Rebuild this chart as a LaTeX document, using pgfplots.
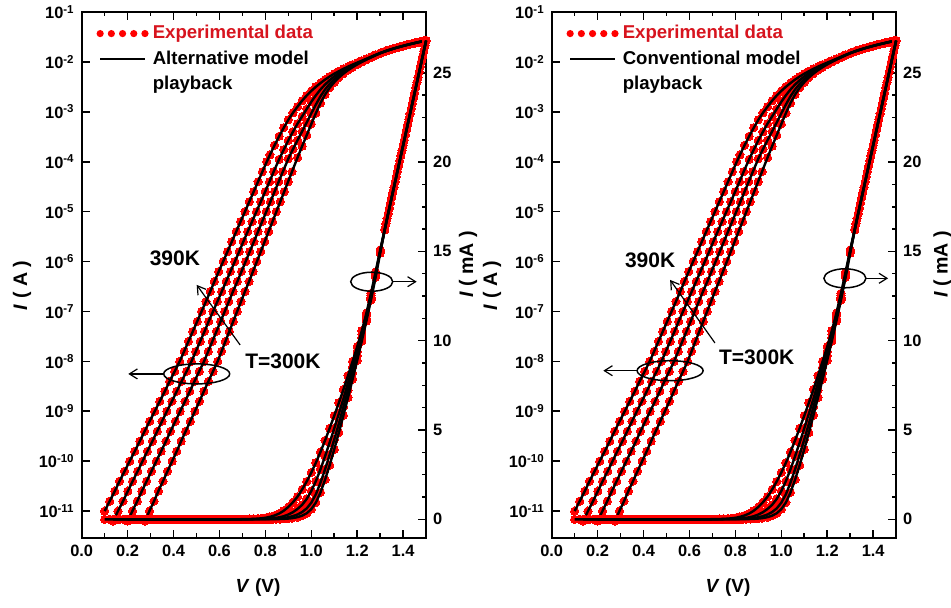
\documentclass[border=0pt]{standalone}
\usepackage{fontspec}
\setmainfont{Liberation Sans}
\usepackage{pgfplots}
\pgfplotsset{compat=1.18}
\usepackage{pgfplotstable}
\usetikzlibrary{arrows.meta}
\definecolor{expred}{RGB}{215,20,30}
\definecolor{dotred}{RGB}{255,0,0}

\pgfplotstableread{
V I
0.100 1.00e-11
0.122 1.58e-11
0.144 2.51e-11
0.165 3.98e-11
0.187 6.31e-11
0.209 1.00e-10
0.231 1.58e-10
0.253 2.51e-10
0.274 3.98e-10
0.296 6.31e-10
0.318 1.00e-9
0.340 1.58e-9
0.362 2.51e-9
0.383 3.98e-9
0.405 6.31e-9
0.427 1.00e-8
0.446 1.58e-8
0.465 2.51e-8
0.484 3.98e-8
0.503 6.31e-8
0.522 1.00e-7
0.541 1.58e-7
0.560 2.51e-7
0.578 3.98e-7
0.597 6.31e-7
0.616 1.00e-6
0.635 1.58e-6
0.654 2.51e-6
0.673 3.98e-6
0.692 6.31e-6
0.711 1.00e-5
0.730 1.58e-5
0.749 2.51e-5
0.768 3.98e-5
0.787 6.31e-5
0.806 1.00e-4
0.820 1.38e-4
0.840 2.14e-4
0.860 3.24e-4
0.880 4.79e-4
0.900 6.92e-4
0.920 9.55e-4
0.940 1.27e-3
0.960 1.67e-3
0.980 2.12e-3
1.000 2.62e-3
1.020 3.17e-3
1.040 3.77e-3
1.060 4.42e-3
1.080 5.10e-3
1.100 5.80e-3
1.120 6.52e-3
1.140 7.27e-3
1.160 8.05e-3
1.180 8.85e-3
1.200 9.67e-3
1.220 1.055e-2
1.240 1.155e-2
1.260 1.265e-2
1.280 1.385e-2
1.300 1.508e-2
1.320 1.625e-2
1.340 1.742e-2
1.360 1.860e-2
1.380 1.977e-2
1.400 2.094e-2
1.420 2.211e-2
1.440 2.328e-2
1.460 2.446e-2
1.480 2.563e-2
1.500 2.680e-2
}\curveA

\pgfplotstableread{
V I
0.137 6.31e-12
0.158 1.00e-11
0.180 1.58e-11
0.201 2.51e-11
0.222 3.98e-11
0.244 6.31e-11
0.265 1.00e-10
0.286 1.58e-10
0.308 2.51e-10
0.329 3.98e-10
0.350 6.31e-10
0.371 1.00e-9
0.393 1.58e-9
0.414 2.51e-9
0.435 3.98e-9
0.457 6.31e-9
0.478 1.00e-8
0.497 1.58e-8
0.516 2.51e-8
0.535 3.98e-8
0.553 6.31e-8
0.572 1.00e-7
0.591 1.58e-7
0.610 2.51e-7
0.629 3.98e-7
0.648 6.31e-7
0.667 1.00e-6
0.686 1.58e-6
0.704 2.51e-6
0.723 3.98e-6
0.742 6.31e-6
0.761 1.00e-5
0.780 1.58e-5
0.799 2.51e-5
0.818 3.98e-5
0.836 6.31e-5
0.860 1.12e-4
0.880 1.74e-4
0.900 2.69e-4
0.920 3.98e-4
0.940 5.80e-4
0.960 8.09e-4
0.980 1.14e-3
1.000 1.585e-3
1.020 2.14e-3
1.040 2.80e-3
1.060 3.53e-3
1.080 4.30e-3
1.100 5.09e-3
1.120 5.91e-3
1.140 6.75e-3
1.160 7.64e-3
1.180 8.52e-3
1.200 9.41e-3
1.220 1.036e-2
1.240 1.140e-2
1.260 1.253e-2
1.280 1.375e-2
1.300 1.502e-2
1.325 1.6545e-2
1.345 1.7717e-2
1.365 1.8889e-2
1.385 2.0061e-2
1.405 2.1233e-2
1.425 2.2405e-2
1.445 2.3577e-2
1.465 2.4749e-2
1.485 2.5921e-2
1.500 2.680e-2
}\curveB

\pgfplotstableread{
V I
0.200 6.31e-12
0.221 1.00e-11
0.242 1.58e-11
0.262 2.51e-11
0.283 3.98e-11
0.304 6.31e-11
0.325 1.00e-10
0.346 1.58e-10
0.367 2.51e-10
0.387 3.98e-10
0.408 6.31e-10
0.429 1.00e-9
0.450 1.58e-9
0.471 2.51e-9
0.491 3.98e-9
0.512 6.31e-9
0.533 1.00e-8
0.551 1.58e-8
0.569 2.51e-8
0.587 3.98e-8
0.605 6.31e-8
0.623 1.00e-7
0.641 1.58e-7
0.659 2.51e-7
0.678 3.98e-7
0.696 6.31e-7
0.714 1.00e-6
0.732 1.58e-6
0.750 2.51e-6
0.768 3.98e-6
0.786 6.31e-6
0.804 1.00e-5
0.822 1.58e-5
0.840 2.51e-5
0.858 3.98e-5
0.876 6.31e-5
0.900 1.15e-4
0.920 1.78e-4
0.940 2.70e-4
0.960 4.05e-4
0.980 6.10e-4
1.000 9.30e-4
1.020 1.40e-3
1.040 2.05e-3
1.060 2.80e-3
1.080 3.62e-3
1.100 4.47e-3
1.120 5.35e-3
1.140 6.30e-3
1.160 7.23e-3
1.180 8.18e-3
1.200 9.16e-3
1.220 1.017e-2
1.240 1.125e-2
1.260 1.240e-2
1.280 1.365e-2
1.300 1.496e-2
1.330 1.6838e-2
1.350 1.8010e-2
1.370 1.9182e-2
1.390 2.0354e-2
1.410 2.1526e-2
1.430 2.2698e-2
1.450 2.3870e-2
1.470 2.5042e-2
1.490 2.6214e-2
1.500 2.680e-2
}\curveC

\pgfplotstableread{
V I
0.275 6.31e-12
0.295 1.00e-11
0.315 1.58e-11
0.334 2.51e-11
0.354 3.98e-11
0.374 6.31e-11
0.394 1.00e-10
0.414 1.58e-10
0.433 2.51e-10
0.453 3.98e-10
0.473 6.31e-10
0.493 1.00e-9
0.513 1.58e-9
0.532 2.51e-9
0.552 3.98e-9
0.572 6.31e-9
0.592 1.00e-8
0.609 1.58e-8
0.626 2.51e-8
0.643 3.98e-8
0.660 6.31e-8
0.677 1.00e-7
0.694 1.58e-7
0.711 2.51e-7
0.729 3.98e-7
0.746 6.31e-7
0.763 1.00e-6
0.780 1.58e-6
0.797 2.51e-6
0.814 3.98e-6
0.831 6.31e-6
0.848 1.00e-5
0.865 1.58e-5
0.882 2.51e-5
0.899 3.98e-5
0.916 6.31e-5
0.940 1.21e-4
0.960 2.05e-4
0.980 3.40e-4
1.000 5.70e-4
1.020 9.40e-4
1.040 1.50e-3
1.060 2.22e-3
1.080 3.03e-3
1.100 3.92e-3
1.120 4.85e-3
1.140 5.82e-3
1.160 6.82e-3
1.180 7.85e-3
1.200 8.90e-3
1.220 9.98e-3
1.240 1.110e-2
1.260 1.228e-2
1.280 1.355e-2
1.300 1.490e-2
1.320 1.620e-2
1.335 1.7131e-2
1.355 1.8303e-2
1.375 1.9475e-2
1.395 2.0647e-2
1.415 2.1819e-2
1.435 2.2991e-2
1.455 2.4163e-2
1.475 2.5335e-2
1.495 2.6507e-2
1.500 2.680e-2
}\curveD

\pgfplotsset{
  expdots/.style={only marks, mark=*, mark size=2.05pt, color=dotred, mark options={fill=dotred, draw=dotred, line width=0pt}},
  fitline/.style={black, line width=1.2pt, mark=none},
}

\newcommand{\ivpanel}[3]{%
\begin{axis}[
    at={(#1,0pt)}, anchor=south west, scale only axis, width=172.2pt, height=262.85pt,
    xmin=0, xmax=1.5, clip=false, clip marker paths=true,
    ymode=log, ymin=2.92e-12, ymax=0.1,
    axis line style={line width=0.9pt},
    tick align=inside,
    major tick length=4pt, minor tick length=2.2pt,
    every tick/.style={black, line width=0.8pt},
    tick label style={font=\fontsize{8.2}{9}\selectfont\bfseries},
    xtick pos=both, ytick pos=left,
    xtick={0,0.2,0.4,0.6,0.8,1.0,1.2,1.4},
    xticklabels={0.0,0.2,0.4,0.6,0.8,1.0,1.2,1.4},
    minor xtick={0.1,0.3,0.5,0.7,0.9,1.1,1.3,1.5},
    ytick={1e-11,1e-10,1e-9,1e-8,1e-7,1e-6,1e-5,1e-4,1e-3,1e-2,1e-1},
    yticklabels={10\textsuperscript{-11},10\textsuperscript{-10},10\textsuperscript{-9},10\textsuperscript{-8},10\textsuperscript{-7},10\textsuperscript{-6},10\textsuperscript{-5},10\textsuperscript{-4},10\textsuperscript{-3},10\textsuperscript{-2},10\textsuperscript{-1}},
    yminorticks=false,
    xlabel={\textit{V} (V)},
    xlabel style={font=\fontsize{9.5}{11}\selectfont\bfseries, at={(axis description cs:0.512,-0.094)}, anchor=center},
    ylabel={\textit{I} ( A )},
    ylabel style={font=\fontsize{9.8}{11}\selectfont\bfseries, at={(axis description cs:-0.173,0.48)}, anchor=center},
    legend cell align=left,
    legend style={at={(axis description cs:0.042,0.983)}, anchor=north west, draw=none, fill=none,
      font=\fontsize{9.3}{11}\selectfont\bfseries, inner sep=0pt, row sep=0.4pt,
      /tikz/every even column/.append style={column sep=1.6pt}},
  ]
  \addplot[expdots, legend image code/.code={\draw[dotred, line width=3.6pt, line cap=round, dash pattern=on 0pt off 5.6pt] (0pt,0pt) -- (22.5pt,0pt);}] table {\curveA};
  \addlegendentry[text=expred]{Experimental data}
  \addplot[expdots, forget plot] table {\curveB};
  \addplot[expdots, forget plot] table {\curveC};
  \addplot[expdots, forget plot] table {\curveD};
  \addplot[fitline, legend image code/.code={\draw[black, line width=1.2pt] (0pt,0pt) -- (22.5pt,0pt);}] table {\curveA};
  \addlegendentry{#2 model}
  \addplot[fitline, forget plot] table {\curveB};
  \addplot[fitline, forget plot] table {\curveC};
  \addplot[fitline, forget plot] table {\curveD};
  \addlegendimage{empty legend}
  \addlegendentry{playback}
\end{axis}
\begin{axis}[
    at={(#1,0pt)}, anchor=south west, scale only axis, width=172.2pt, height=262.85pt,
    xmin=0, xmax=1.5, clip=false, clip marker paths=true,
    ymin=-0.00103, ymax=0.0284,
    axis x line=none, axis y line*=right,
    axis line style={line width=0.9pt,-},
    tick align=inside,
    major tick length=4pt, minor tick length=2.2pt,
    every tick/.style={black, line width=0.8pt},
    tick label style={font=\fontsize{8.2}{9}\selectfont\bfseries},
    scaled y ticks=false,
    ytick={0,0.005,0.01,0.015,0.02,0.025},
    yticklabels={0,5,10,15,20,25},
    minor y tick num=3,
    ylabel={\textit{I} ( mA )},
    ylabel style={font=\fontsize{9.8}{11}\selectfont\bfseries, at={(axis description cs:#3,0.52)}, anchor=center},
  ]
  \addplot[expdots] table {\curveA};
  \addplot[expdots] table {\curveB};
  \addplot[expdots] table {\curveC};
  \addplot[expdots] table {\curveD};
  \addplot[fitline] table {\curveA};
  \addplot[fitline] table {\curveB};
  \addplot[fitline] table {\curveC};
  \addplot[fitline] table {\curveD};
\end{axis}
}

\begin{document}
\begin{tikzpicture}
\ivpanel{0pt}{Alternative}{1.122}
\ivpanel{235pt}{Conventional}{1.135}

\begin{scope}[font=\fontsize{10.5}{12}\selectfont\bfseries]
\node at (46.6pt,139.9pt) {390K};
\node at (100.6pt,88.4pt) {T=300K};
\draw[line width=0.6pt, -{Straight Barb[length=4pt,width=5pt]}] (79.2pt,96.4pt) -- (57.5pt,126.4pt);
\draw[line width=0.75pt] (57.5pt,81.9pt) ellipse (16.5pt and 5pt);
\draw[line width=0.6pt, -{Straight Barb[length=4pt,width=5pt]}] (41pt,81.9pt) -- (23.3pt,81.9pt);
\draw[line width=0.75pt] (145pt,128pt) ellipse (10.5pt and 4.75pt);
\draw[line width=0.6pt, -{Straight Barb[length=4pt,width=5pt]}] (155.5pt,128pt) -- (167.5pt,128pt);
\node at (284.2pt,138.9pt) {390K};
\node at (337.5pt,90.4pt) {T=300K};
\draw[line width=0.6pt, -{Straight Barb[length=4pt,width=5pt]}] (316.6pt,97.4pt) -- (294.2pt,128.9pt);
\draw[line width=0.75pt] (294.2pt,83.5pt) ellipse (16.5pt and 5pt);
\draw[line width=0.6pt, -{Straight Barb[length=4pt,width=5pt]}] (277.7pt,83.5pt) -- (260.8pt,83.5pt);
\draw[line width=0.75pt] (381.6pt,129.7pt) ellipse (10.5pt and 4.75pt);
\draw[line width=0.6pt, -{Straight Barb[length=4pt,width=5pt]}] (392.1pt,129.7pt) -- (403.2pt,129.7pt);
\end{scope}

\pgfresetboundingbox
\useasboundingbox (-40.85pt,-34.65pt) rectangle (434.65pt,268.85pt);
\end{tikzpicture}
\end{document}
